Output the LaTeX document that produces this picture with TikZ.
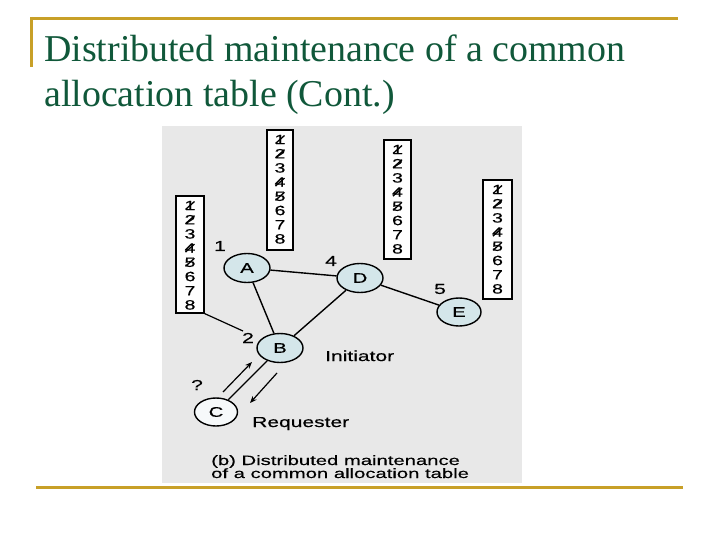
\documentclass[tikz,border=0pt]{standalone}
\usepackage{fontspec}
\setmainfont{Liberation Serif}
\newfontfamily\titlefont{Liberation Serif}
\newfontfamily\figfont[FakeStretch=1.45,FakeBold=0.4]{Liberation Sans}
\newfontfamily\capfont[FakeStretch=1.5,FakeBold=0.3]{Liberation Sans}
\usetikzlibrary{shapes.geometric,arrows.meta}
\definecolor{gold}{RGB}{200,160,40}
\definecolor{titlegreen}{RGB}{16,88,58}
\definecolor{panel}{RGB}{232,232,232}
\definecolor{nodefill}{RGB}{212,230,234}
\definecolor{nodewhite}{RGB}{246,249,250}
\tikzset{
  site/.style={ellipse,draw=black,line width=1.4pt,fill=nodefill,minimum width=46pt,minimum height=29pt,inner sep=0pt,font=\figfont\fontsize{14}{14}\selectfont},
  tablebox/.style={draw=black,line width=1.1pt,fill=white!96!panel,minimum width=27pt,inner sep=0pt},
  digit/.style={inner sep=0pt,font=\figfont\fontsize{13.5}{13.5}\selectfont},
  lbl/.style={inner sep=0pt,font=\figfont\fontsize{14.5}{14.5}\selectfont},
  link/.style={line width=1.4pt,draw=black},
  strike/.style={line width=1.3pt,draw=black},
  flow/.style={line width=1.2pt,-{Stealth[length=7pt,width=5.5pt]}},
  goldline/.style={draw=gold,line width=3pt}
}
\begin{document}
\begin{tikzpicture}[x=1pt,y=-1pt]
\useasboundingbox (0,0) rectangle (720,540);
\fill[white] (0,0) rectangle (720,540);
% slide frame
\draw[goldline] (30.5,18.5) -- (678,18.5);
\draw[goldline] (31,17) -- (31,67);
\draw[goldline] (36,487) -- (683,487);
% title
\node[anchor=base west,inner sep=0pt,text=titlegreen,font=\titlefont\fontsize{37.9}{44}\selectfont] (title1) at (44,62) {Distributed maintenance of a common};
\node[anchor=base west,inner sep=0pt,text=titlegreen,font=\titlefont\fontsize{37.9}{44}\selectfont] (title2) at (44,107) {allocation table (Cont.)};
% panel
\fill[panel] (162,126) rectangle (522,483);
% tables
\foreach \t/\cx/\top/\w/\h in {t1/190/196/28/117, t2/280/130/26/120, t3/397.5/140/27/119, t4/497.5/180/29/119}{
  \node[tablebox,minimum width=\w pt,minimum height=\h pt] (\t) at (\cx,\top+\h/2) {};
  \foreach \i in {1,...,8}{
    \node[digit] (\t d\i) at (\cx,\top+9.5+\i*14.2-14.2) {\i};
  }
  \foreach \i in {1,2,4,5}{
    \draw[strike] ([shift={(-4.5,4)}]\t d\i.center) -- ([shift={(4.5,-4)}]\t d\i.center);
  }
}
% sites
\node[site] (A) at (247,268) {A};
\node[site] (D) at (360,278) {D};
\node[site,minimum width=44pt,minimum height=28pt] (E) at (459,312) {E};
\node[site] (B) at (280,348) {B};
\node[site,fill=nodewhite,minimum width=43pt,minimum height=28pt] (C) at (216,412) {C};
% links
\draw[link] (A) -- (D);
\draw[link] (A) -- (B);
\draw[link] (D) -- (B);
\draw[link] (D) -- (E);
\draw[link] (C) -- (B);
\coordinate (lead2) at (243,331);
\draw[line width=1.2pt] (t1.south east) -- (lead2);
% request arrows
\coordinate (up1) at (223,392);
\coordinate (up2) at (252,362);
\coordinate (dn1) at (277,373);
\coordinate (dn2) at (250,403);
\draw[flow] (up1) -- (up2);
\draw[flow] (dn1) -- (dn2);
% labels
\node[lbl] (n1) at (220,246) {1};
\node[lbl] (n4) at (331,261) {4};
\node[lbl] (n5) at (440,289) {5};
\node[lbl] (n2) at (248,338) {2};
\node[lbl] (nq) at (197,385) {?};
\node[lbl,anchor=base west] (init) at (325,361) {Initiator};
\node[lbl,anchor=base west] (req) at (252,427) {Requester};
% caption
\node[anchor=base west,inner sep=0pt,font=\capfont\fontsize{13.5}{13.5}\selectfont] (cap1) at (211,465) {(b) Distributed maintenance};
\node[anchor=base west,inner sep=0pt,font=\capfont\fontsize{13.5}{13.5}\selectfont] (cap2) at (211,478) {of a common allocation table};
\end{tikzpicture}
\end{document}
